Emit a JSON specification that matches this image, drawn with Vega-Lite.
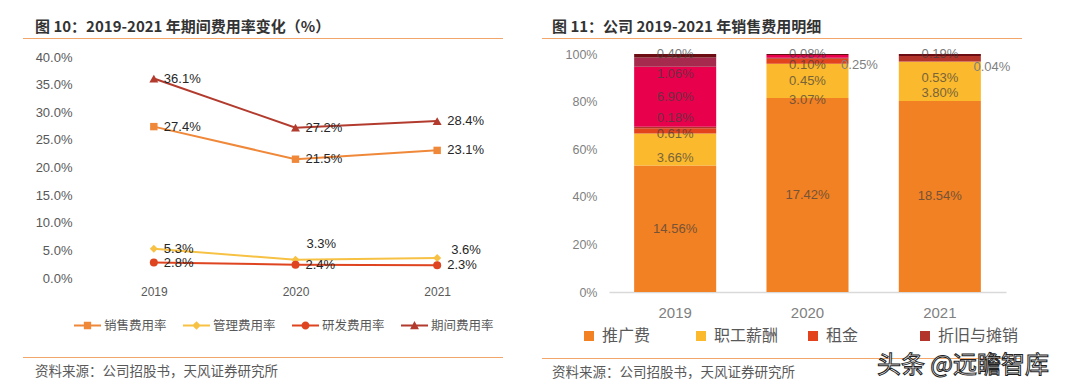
{
  "$schema": "https://vega.github.io/schema/vega-lite/v6.json",
  "background": "white",
  "padding": {"left": 23, "top": 20, "right": 0, "bottom": 0},
  "config": {
    "view": {"stroke": null},
    "font": "Liberation Sans"
  },
  "spacing": 34,
  "align": "none",
  "resolve": {
    "scale": {"color": "independent", "fill": "independent", "shape": "independent", "stroke": "independent"},
    "legend": {"color": "independent", "fill": "independent", "shape": "independent", "stroke": "independent"}
  },
  "hconcat": [
    {
      "spacing": 12,
      "align": "none",
      "resolve": {
        "scale": {"color": "independent", "fill": "independent", "shape": "independent", "stroke": "independent"},
        "legend": {"color": "independent", "fill": "independent", "shape": "independent", "stroke": "independent"}
      },
      "vconcat": [
        {
          "width": 480,
          "height": 1,
          "view": {"fill": "#f2a66a", "stroke": null},
          "title": {"text": "图 10：2019-2021 年期间费用率变化（%）", "anchor": "start", "dx": 12, "offset": 3, "fontSize": 15, "fontWeight": "bold", "color": "#333333", "font": "Noto Sans CJK SC"},
          "data": {"values": []},
          "mark": "rule",
          "encoding": {}
        },
        {
          "spacing": 11,
          "align": "none",
          "resolve": {
            "scale": {"color": "independent", "fill": "independent", "shape": "independent", "stroke": "independent"},
            "legend": {"color": "independent", "fill": "independent", "shape": "independent", "stroke": "independent"}
          },
          "hconcat": [
            {
              "width": 1,
              "height": 1,
              "view": {"fill": "white", "stroke": null},
              "data": {"values": []},
              "mark": "rule",
              "encoding": {}
            },
            {
              "width": 425,
              "height": 221,
              "data": {"values": [
                {"series": "销售费用率", "year": "2019", "value": 0.274},
                {"series": "销售费用率", "year": "2020", "value": 0.215},
                {"series": "销售费用率", "year": "2021", "value": 0.231},
                {"series": "管理费用率", "year": "2019", "value": 0.053},
                {"series": "管理费用率", "year": "2020", "value": 0.033},
                {"series": "管理费用率", "year": "2021", "value": 0.036},
                {"series": "研发费用率", "year": "2019", "value": 0.028},
                {"series": "研发费用率", "year": "2020", "value": 0.024},
                {"series": "研发费用率", "year": "2021", "value": 0.023},
                {"series": "期间费用率", "year": "2019", "value": 0.361},
                {"series": "期间费用率", "year": "2020", "value": 0.272},
                {"series": "期间费用率", "year": "2021", "value": 0.284}
              ]},
              "encoding": {
                "x": {"field": "year", "type": "ordinal", "scale": {"type": "point", "padding": 0.5},
                  "axis": {"title": " ", "titleFontSize": 10, "titlePadding": 38, "labelAngle": 0, "ticks": false, "domain": false, "labelPadding": 8, "labelFontSize": 12, "labelColor": "#595959", "labelFont": "Liberation Sans"}},
                "y": {"field": "value", "type": "quantitative", "scale": {"domain": [0, 0.4]},
                  "axis": {"title": null, "values": [0, 0.05, 0.1, 0.15, 0.2, 0.25, 0.3, 0.35, 0.4], "format": ".1%", "grid": false, "domain": false, "ticks": false, "labelPadding": 11, "labelFontSize": 13, "labelColor": "#595959", "labelFont": "Liberation Sans"}}
              },
              "layer": [
                {
                  "transform": [{"filter": "datum.series == '销售费用率'"}],
                  "mark": {"type": "line", "strokeWidth": 2, "color": "#f0883a"}
                },
                {
                  "transform": [{"filter": "datum.series == '管理费用率'"}],
                  "mark": {"type": "line", "strokeWidth": 2, "color": "#f7c143"}
                },
                {
                  "transform": [{"filter": "datum.series == '研发费用率'"}],
                  "mark": {"type": "line", "strokeWidth": 2, "color": "#df4420"}
                },
                {
                  "transform": [{"filter": "datum.series == '期间费用率'"}],
                  "mark": {"type": "line", "strokeWidth": 2, "color": "#b23b2e"}
                },
                {
                  "transform": [{"filter": "datum.series == '销售费用率'"}],
                  "mark": {"type": "point", "shape": "square", "filled": true, "size": 55, "opacity": 1, "strokeWidth": 0, "color": "#f0883a"}
                },
                {
                  "transform": [{"filter": "datum.series == '管理费用率'"}],
                  "mark": {"type": "point", "shape": "diamond", "filled": true, "size": 64, "opacity": 1, "strokeWidth": 0, "color": "#f7c143"}
                },
                {
                  "transform": [{"filter": "datum.series == '研发费用率'"}],
                  "mark": {"type": "point", "shape": "circle", "filled": true, "size": 64, "opacity": 1, "strokeWidth": 0, "color": "#df4420"}
                },
                {
                  "transform": [{"filter": "datum.series == '期间费用率'"}],
                  "mark": {"type": "point", "shape": "triangle-up", "filled": true, "size": 80, "opacity": 1, "strokeWidth": 0, "color": "#b23b2e"}
                },
                {
                  "transform": [{"filter": "!(datum.series == '管理费用率' && datum.year != '2019')"}],
                  "mark": {"type": "text", "align": "left", "baseline": "middle", "dx": 10, "fontSize": 13, "fill": "#262626", "font": "Liberation Sans"},
                  "encoding": {"text": {"field": "value", "type": "quantitative", "format": ".1%"}}
                },
                {
                  "transform": [{"filter": "datum.series == '管理费用率' && datum.year == '2020'"}],
                  "mark": {"type": "text", "align": "left", "baseline": "middle", "dx": 11, "dy": -16, "fontSize": 13, "fill": "#262626", "font": "Liberation Sans"},
                  "encoding": {"text": {"field": "value", "type": "quantitative", "format": ".1%"}}
                },
                {
                  "transform": [{"filter": "datum.series == '管理费用率' && datum.year == '2021'"}],
                  "mark": {"type": "text", "align": "left", "baseline": "middle", "dx": 14, "dy": -8, "fontSize": 13, "fill": "#262626", "font": "Liberation Sans"},
                  "encoding": {"text": {"field": "value", "type": "quantitative", "format": ".1%"}}
                },
                {
                  "transform": [{"filter": "false"}],
                  "mark": {"type": "point", "filled": true, "opacity": 1, "strokeWidth": 0},
                  "encoding": {
                    "fill": {"field": "series", "type": "nominal",
                      "scale": {"domain": ["销售费用率", "管理费用率", "研发费用率", "期间费用率"], "range": ["#f0883a", "#f7c143", "#df4420", "#b23b2e"]},
                      "legend": {"orient": "none", "legendX": -9, "legendY": 255, "direction": "horizontal", "columns": 4, "title": null, "symbolSize": 729, "labelOffset": 3, "columnPadding": 16, "gridAlign": "all", "labelFontSize": 12.5, "labelColor": "#595959", "labelFont": "Noto Sans CJK SC", "symbolStrokeWidth": 0, "symbolOpacity": 1}},
                    "shape": {"field": "series", "type": "nominal",
                      "scale": {"domain": ["销售费用率", "管理费用率", "研发费用率", "期间费用率"], "range": [
                        "M-1,-0.07L1,-0.07L1,0.07L-1,0.07Z M-0.27,-0.27L0.27,-0.27L0.27,0.27L-0.27,0.27Z",
                        "M-1,-0.07L1,-0.07L1,0.07L-1,0.07Z M0,-0.32L0.32,0L0,0.32L-0.32,0Z",
                        "M-1,-0.07L1,-0.07L1,0.07L-1,0.07Z M-0.3,0A0.3,0.3 0 1,1 0.3,0A0.3,0.3 0 1,1 -0.3,0Z",
                        "M-1,-0.07L1,-0.07L1,0.07L-1,0.07Z M0,-0.33L0.33,0.27L-0.33,0.27Z"
                      ]},
                      "legend": {"orient": "none", "legendX": -9, "legendY": 255, "direction": "horizontal", "columns": 4, "title": null, "symbolSize": 729, "labelOffset": 3, "columnPadding": 16, "gridAlign": "all", "labelFontSize": 12.5, "labelColor": "#595959", "labelFont": "Noto Sans CJK SC", "symbolStrokeWidth": 0, "symbolOpacity": 1}}
                  }
                }
              ]
            }
          ]
        },
        {
          "width": 480,
          "height": 1,
          "view": {"fill": "#f2a66a", "stroke": null},
          "title": {"text": "资料来源：公司招股书，天风证券研究所", "orient": "bottom", "anchor": "start", "dx": 12, "offset": 7, "fontSize": 13.5, "fontWeight": "normal", "color": "#595959", "font": "Noto Sans CJK SC"},
          "data": {"values": []},
          "mark": "rule",
          "encoding": {}
        }
      ]
    },
    {
      "spacing": 8,
      "align": "none",
      "resolve": {
        "scale": {"color": "independent", "fill": "independent", "shape": "independent", "stroke": "independent"},
        "legend": {"color": "independent", "fill": "independent", "shape": "independent", "stroke": "independent"}
      },
      "vconcat": [
        {
          "width": 480,
          "height": 1,
          "view": {"fill": "#f2a66a", "stroke": null},
          "title": {"text": "图 11：公司 2019-2021 年销售费用明细", "anchor": "start", "dx": 10, "offset": 3, "fontSize": 15, "fontWeight": "bold", "color": "#333333", "font": "Noto Sans CJK SC"},
          "data": {"values": []},
          "mark": "rule",
          "encoding": {}
        },
        {
          "spacing": 22,
          "align": "none",
          "resolve": {
            "scale": {"color": "independent", "fill": "independent", "shape": "independent", "stroke": "independent"},
            "legend": {"color": "independent", "fill": "independent", "shape": "independent", "stroke": "independent"}
          },
          "hconcat": [
            {
              "width": 1,
              "height": 1,
              "view": {"fill": "white", "stroke": null},
              "data": {"values": []},
              "mark": "rule",
              "encoding": {}
            },
            {
              "width": 397,
              "height": 238,
              "data": {"values": [
                {"year": "2019", "category": "推广费", "value": 0.1456},
                {"year": "2019", "category": "职工薪酬", "value": 0.0366},
                {"year": "2019", "category": "租金", "value": 0.0061},
                {"year": "2019", "category": "折旧与摊销", "value": 0.0018},
                {"year": "2019", "category": "其他1", "value": 0.069},
                {"year": "2019", "category": "其他2", "value": 0.0106},
                {"year": "2019", "category": "其他3", "value": 0.004},
                {"year": "2020", "category": "推广费", "value": 0.1742},
                {"year": "2020", "category": "职工薪酬", "value": 0.0307},
                {"year": "2020", "category": "租金", "value": 0.0045},
                {"year": "2020", "category": "折旧与摊销", "value": 0.001},
                {"year": "2020", "category": "其他1", "value": 0.0025},
                {"year": "2020", "category": "其他3", "value": 0.0008},
                {"year": "2021", "category": "推广费", "value": 0.1854},
                {"year": "2021", "category": "职工薪酬", "value": 0.038},
                {"year": "2021", "category": "租金", "value": 0.0004},
                {"year": "2021", "category": "折旧与摊销", "value": 0.0053},
                {"year": "2021", "category": "其他3", "value": 0.0019}
              ]},
              "transform": [
                {"calculate": "indexof(['推广费','职工薪酬','租金','折旧与摊销','其他1','其他2','其他3'], datum.category)", "as": "ord"}
              ],
              "encoding": {
                "x": {"field": "year", "type": "ordinal", "scale": {"paddingInner": 0.38, "paddingOuter": 0.19},
                  "axis": {"title": " ", "titleFontSize": 10, "titlePadding": 15, "labelAngle": 0, "ticks": false, "domain": true, "domainColor": "#d9d9d9", "domainWidth": 1.5, "labelPadding": 13, "labelFontSize": 15, "labelColor": "#7f7f7f", "labelFont": "Liberation Sans"}},
                "order": {"field": "ord", "type": "quantitative"}
              },
              "layer": [
                {
                  "mark": {"type": "bar"},
                  "encoding": {
                    "y": {"field": "value", "type": "quantitative", "stack": "normalize",
                      "axis": {"title": null, "values": [0, 0.2, 0.4, 0.6, 0.8, 1], "format": ".0%", "grid": false, "domain": false, "ticks": false, "labelPadding": 12, "labelFontSize": 12.5, "labelColor": "#7f7f7f", "labelFont": "Liberation Sans"}},
                    "color": {"field": "category", "type": "nominal",
                      "scale": {"domain": ["推广费", "职工薪酬", "租金", "折旧与摊销", "其他1", "其他2", "其他3"], "range": ["#f28123", "#fbb92d", "#e2421c", "#b3342b", "#e8004c", "#a52a4d", "#6b0d12"]},
                      "legend": {"orient": "none", "legendX": -28, "legendY": 274, "direction": "horizontal", "columns": 4, "title": null, "values": ["推广费", "职工薪酬", "租金", "折旧与摊销"], "symbolType": "square", "symbolSize": 100, "labelOffset": 5, "columnPadding": 10, "gridAlign": "all", "labelFontSize": 16, "labelColor": "#595959", "labelFont": "Noto Sans CJK SC", "symbolStrokeWidth": 0}}
                  }
                },
                {
                  "mark": {"type": "text", "align": "center", "baseline": "middle", "fontSize": 13, "fill": "#404040", "opacity": 0.7, "font": "Liberation Sans",
                    "dy": {"expr": "datum.year == '2019' ? (datum.category == '职工薪酬' ? 9 : datum.category == '租金' ? 3 : datum.category == '折旧与摊销' ? -9 : datum.category == '其他2' ? 12 : datum.category == '其他3' ? -2 : 0) : datum.year == '2020' ? (datum.category == '职工薪酬' ? 19 : datum.category == '租金' ? 20 : datum.category == '折旧与摊销' ? 7 : 0) : (datum.category == '职工薪酬' ? 12 : datum.category == '折旧与摊销' ? 19 : datum.category == '其他3' ? -1 : 0)"}},
                  "encoding": {
                    "y": {"field": "value", "type": "quantitative", "stack": "normalize", "bandPosition": 0.5,
                      "axis": {"title": null, "values": [0, 0.2, 0.4, 0.6, 0.8, 1], "format": ".0%", "grid": false, "domain": false, "ticks": false, "labelPadding": 12, "labelFontSize": 12.5, "labelColor": "#7f7f7f", "labelFont": "Liberation Sans"}},
                    "detail": {"field": "category", "type": "nominal"},
                    "text": {"condition": {"test": "(datum.year == '2020' && datum.category == '其他1') || (datum.year == '2021' && datum.category == '租金')", "value": ""}, "field": "value", "type": "quantitative", "format": ".2%"}
                  }
                },
                {
                  "mark": {"type": "text", "align": "center", "baseline": "middle", "dx": 52, "dy": {"expr": "datum.year == '2020' ? 9 : 5"}, "fontSize": 13, "fill": "#7f7f7f", "font": "Liberation Sans"},
                  "encoding": {
                    "y": {"field": "value", "type": "quantitative", "stack": "normalize", "bandPosition": 0.5,
                      "axis": {"title": null, "values": [0, 0.2, 0.4, 0.6, 0.8, 1], "format": ".0%", "grid": false, "domain": false, "ticks": false, "labelPadding": 12, "labelFontSize": 12.5, "labelColor": "#7f7f7f", "labelFont": "Liberation Sans"}},
                    "detail": {"field": "category", "type": "nominal"},
                    "text": {"condition": {"test": "(datum.year == '2020' && datum.category == '其他1') || (datum.year == '2021' && datum.category == '租金')", "field": "value", "type": "quantitative", "format": ".2%"}, "value": ""}
                  }
                }
              ]
            }
          ]
        },
        {
          "width": 480,
          "height": 1,
          "view": {"fill": "#f2a66a", "stroke": null},
          "title": {"text": "资料来源：公司招股书，天风证券研究所", "orient": "bottom", "anchor": "start", "dx": 10, "offset": -12, "fontSize": 13.5, "fontWeight": "normal", "color": "#595959", "font": "Noto Sans CJK SC"},
          "data": {"values": [{"t": "头条 @远瞻智库"}]},
          "mark": {"type": "text", "align": "right", "baseline": "middle", "dx": 27, "dy": 7, "fontSize": 24, "font": "Noto Sans CJK SC", "fill": "white", "stroke": "#222222", "strokeWidth": 1},
          "encoding": {
            "x": {"value": "width"},
            "text": {"field": "t", "type": "nominal"}
          }
        }
      ]
    }
  ]
}
